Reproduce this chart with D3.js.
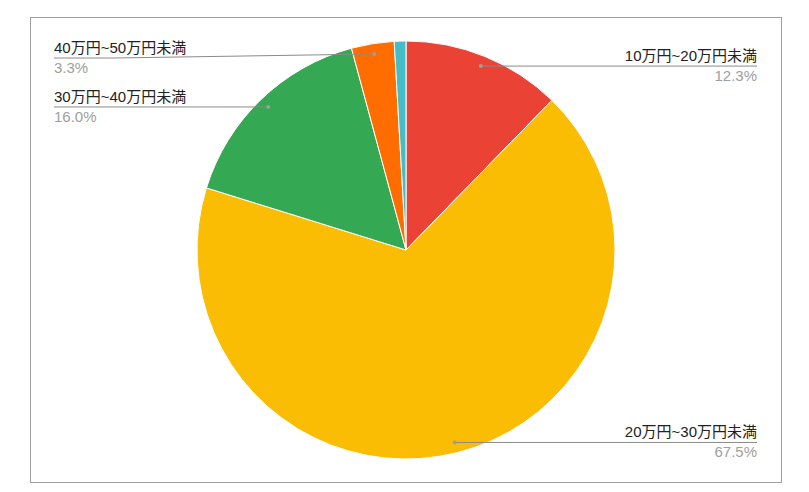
<!DOCTYPE html>
<html lang="ja">
<head>
  <meta charset="UTF-8"/>
  <title>Pie</title>
  <script src="https://d3js.org/d3.v7.min.js"></script>
  <style>
    body { margin: 0; background: #fff; }
    text { font-family: "Liberation Sans", Arial, "Noto Sans CJK JP", sans-serif; }
  </style>
</head>
<body>
<script>
  var w = 809;
  var h = 492;

  // slices, clockwise from 12 o'clock
  var categories = ["10万円~20万円未満", "20万円~30万円未満", "30万円~40万円未満", "40万円~50万円未満", "50万円以上"];
  var values = [12.3, 67.5, 16.0, 3.3, 0.9];
  var percentLabels = ["12.3%", "67.5%", "16.0%", "3.3%", ""];
  var colors = ["#ea4335", "#fbbc04", "#34a853", "#ff6d01", "#46bdc6"];
  var showLabel = [true, true, true, true, false];

  var cx = 406, cy = 250, r = 209;
  var labelTop = 58;   // labels are kept below this line

  var svg = d3.select("body").append("svg")
    .attr("width", w)
    .attr("height", h);

  svg.append("rect")
    .attr("x", 30.5).attr("y", 17.5)
    .attr("width", 751).attr("height", 465)
    .attr("fill", "#fff")
    .attr("stroke", "#9e9e9e")
    .attr("stroke-width", 1);

  var data = categories.map(function(c, i) {
    return { name: c, value: values[i], pct: percentLabels[i], color: colors[i], label: showLabel[i] };
  });

  var pie = d3.pie().sort(null).value(function(d) { return d.value; });
  var arc = d3.arc().innerRadius(0).outerRadius(r);
  var dotArc = d3.arc().innerRadius(r * 0.95).outerRadius(r * 0.95);

  var g = svg.append("g").attr("transform", "translate(" + cx + "," + cy + ")");

  var arcs = pie(data);

  g.selectAll("path")
    .data(arcs)
    .enter()
    .append("path")
    .attr("d", arc)
    .attr("fill", function(d) { return d.data.color; })
    .attr("stroke", "#fff")
    .attr("stroke-width", 1);

  var labelled = arcs.filter(function(d) { return d.data.label; });

  labelled.forEach(function(d) {
    var p = dotArc.centroid(d);
    var px = cx + p[0], py = cy + p[1];
    var right = p[0] > 0;
    var tx = right ? 757 : 54;
    var ly = Math.max(py, labelTop);

    svg.append("polyline")
      .attr("points", [[px, py], [right ? tx - 60 : tx + 60, ly], [tx, ly]].map(function(q) { return q.join(","); }).join(" "))
      .attr("fill", "none")
      .attr("stroke", "#8a8a8a")
      .attr("stroke-width", 1);

    svg.append("circle")
      .attr("cx", px).attr("cy", py)
      .attr("r", 2)
      .attr("fill", "#9e9e9e");

    svg.append("text")
      .attr("x", tx).attr("y", ly - 5)
      .attr("text-anchor", right ? "end" : "start")
      .attr("font-size", 15)
      .attr("fill", "#222")
      .text(d.data.name);

    svg.append("text")
      .attr("x", tx).attr("y", ly + 15)
      .attr("text-anchor", right ? "end" : "start")
      .attr("font-size", 15)
      .attr("fill", "#9e9e9e")
      .text(d.data.pct);
  });
</script>
</body>
</html>
